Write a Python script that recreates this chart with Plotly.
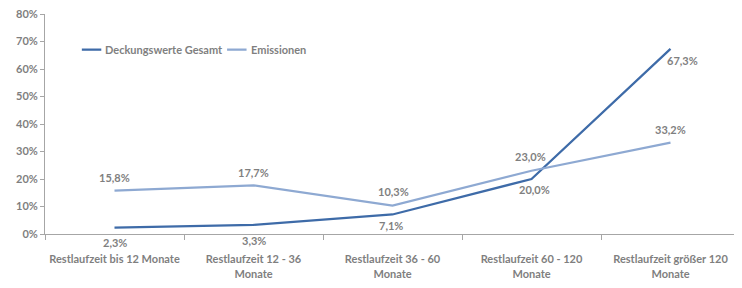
import plotly.graph_objects as go

categories = ["Restlaufzeit bis 12 Monate", "Restlaufzeit 12 - 36<br>Monate",
              "Restlaufzeit 36 - 60<br>Monate", "Restlaufzeit 60 - 120<br>Monate",
              "Restlaufzeit größer 120<br>Monate"]
deckung = [2.3, 3.3, 7.1, 20.0, 67.3]
emissionen = [15.8, 17.7, 10.3, 23.0, 33.2]
yticks = [0, 10, 20, 30, 40, 50, 60, 70, 80]
series_names = ["Deckungswerte Gesamt", "Emissionen"]

gray = "#7F7F7F"
c_dark = "#3E6BA8"
c_light = "#8EA9D2"
font = dict(family="Lato", size=11, color=gray, weight="bold")

# label offsets (pixels) relative to the points
d_yshift = [-15, -16, -11, -10, -12]
d_xshift = [0, 0, -2, 3, 12]
e_yshift = [13, 13, 14, 14, 13]
e_xshift = [0, 0, 1, -1, 0]

def lbl(v):
    return f"{v:.1f}".replace(".", ",") + "%"

fig = go.Figure()
fig.add_trace(go.Scatter(x=categories, y=deckung, name=series_names[0], mode="lines",
                         line=dict(color=c_dark, width=2.25), showlegend=False))
fig.add_trace(go.Scatter(x=categories, y=emissionen, name=series_names[1], mode="lines",
                         line=dict(color=c_light, width=2.25), showlegend=False))

annotations = []
for i, c in enumerate(categories):
    annotations.append(dict(x=c, y=deckung[i], xref="x", yref="y", text=lbl(deckung[i]),
                            showarrow=False, yshift=d_yshift[i], xshift=d_xshift[i], font=font))
    annotations.append(dict(x=c, y=emissionen[i], xref="x", yref="y", text=lbl(emissionen[i]),
                            showarrow=False, yshift=e_yshift[i], xshift=e_xshift[i], font=font))

# manual legend (short line samples like the reference)
leg_y = 0.838
shapes = [
    dict(type="line", xref="paper", yref="paper", x0=0.053, x1=0.081, y0=leg_y, y1=leg_y,
         line=dict(color=c_dark, width=2.25)),
    dict(type="line", xref="paper", yref="paper", x0=0.262, x1=0.290, y0=leg_y, y1=leg_y,
         line=dict(color=c_light, width=2.25)),
]
annotations.append(dict(x=0.083, y=leg_y, xref="paper", yref="paper", text=series_names[0],
                        showarrow=False, xanchor="left", yanchor="middle", font=font))
annotations.append(dict(x=0.293, y=leg_y, xref="paper", yref="paper", text=series_names[1],
                        showarrow=False, xanchor="left", yanchor="middle", font=font))

fig.update_layout(
    width=742, height=288,
    margin=dict(l=37, r=10, t=6, b=62),
    paper_bgcolor="white", plot_bgcolor="white",
    font=font,
    showlegend=False,
    annotations=annotations,
    shapes=shapes,
    xaxis=dict(type="category", showline=True, linecolor="#A6A6A6", linewidth=1,
               ticks="outside", tickson="boundaries", ticklen=5, tickcolor="#A6A6A6",
               showgrid=False, tickfont=font, range=[-0.5, 4.5], ticklabelstandoff=15,
               tickangle=0, automargin=False),
    yaxis=dict(range=[0, 80], tickvals=yticks, ticktext=[f"{v}%" for v in yticks],
               showline=True, linecolor="#A6A6A6", linewidth=1, ticks="outside",
               ticklen=4, tickcolor="#A6A6A6", showgrid=False, zeroline=False,
               tickfont=font, automargin=False, ticklabeloverflow="allow"),
)

fig.write_html("out.html")
